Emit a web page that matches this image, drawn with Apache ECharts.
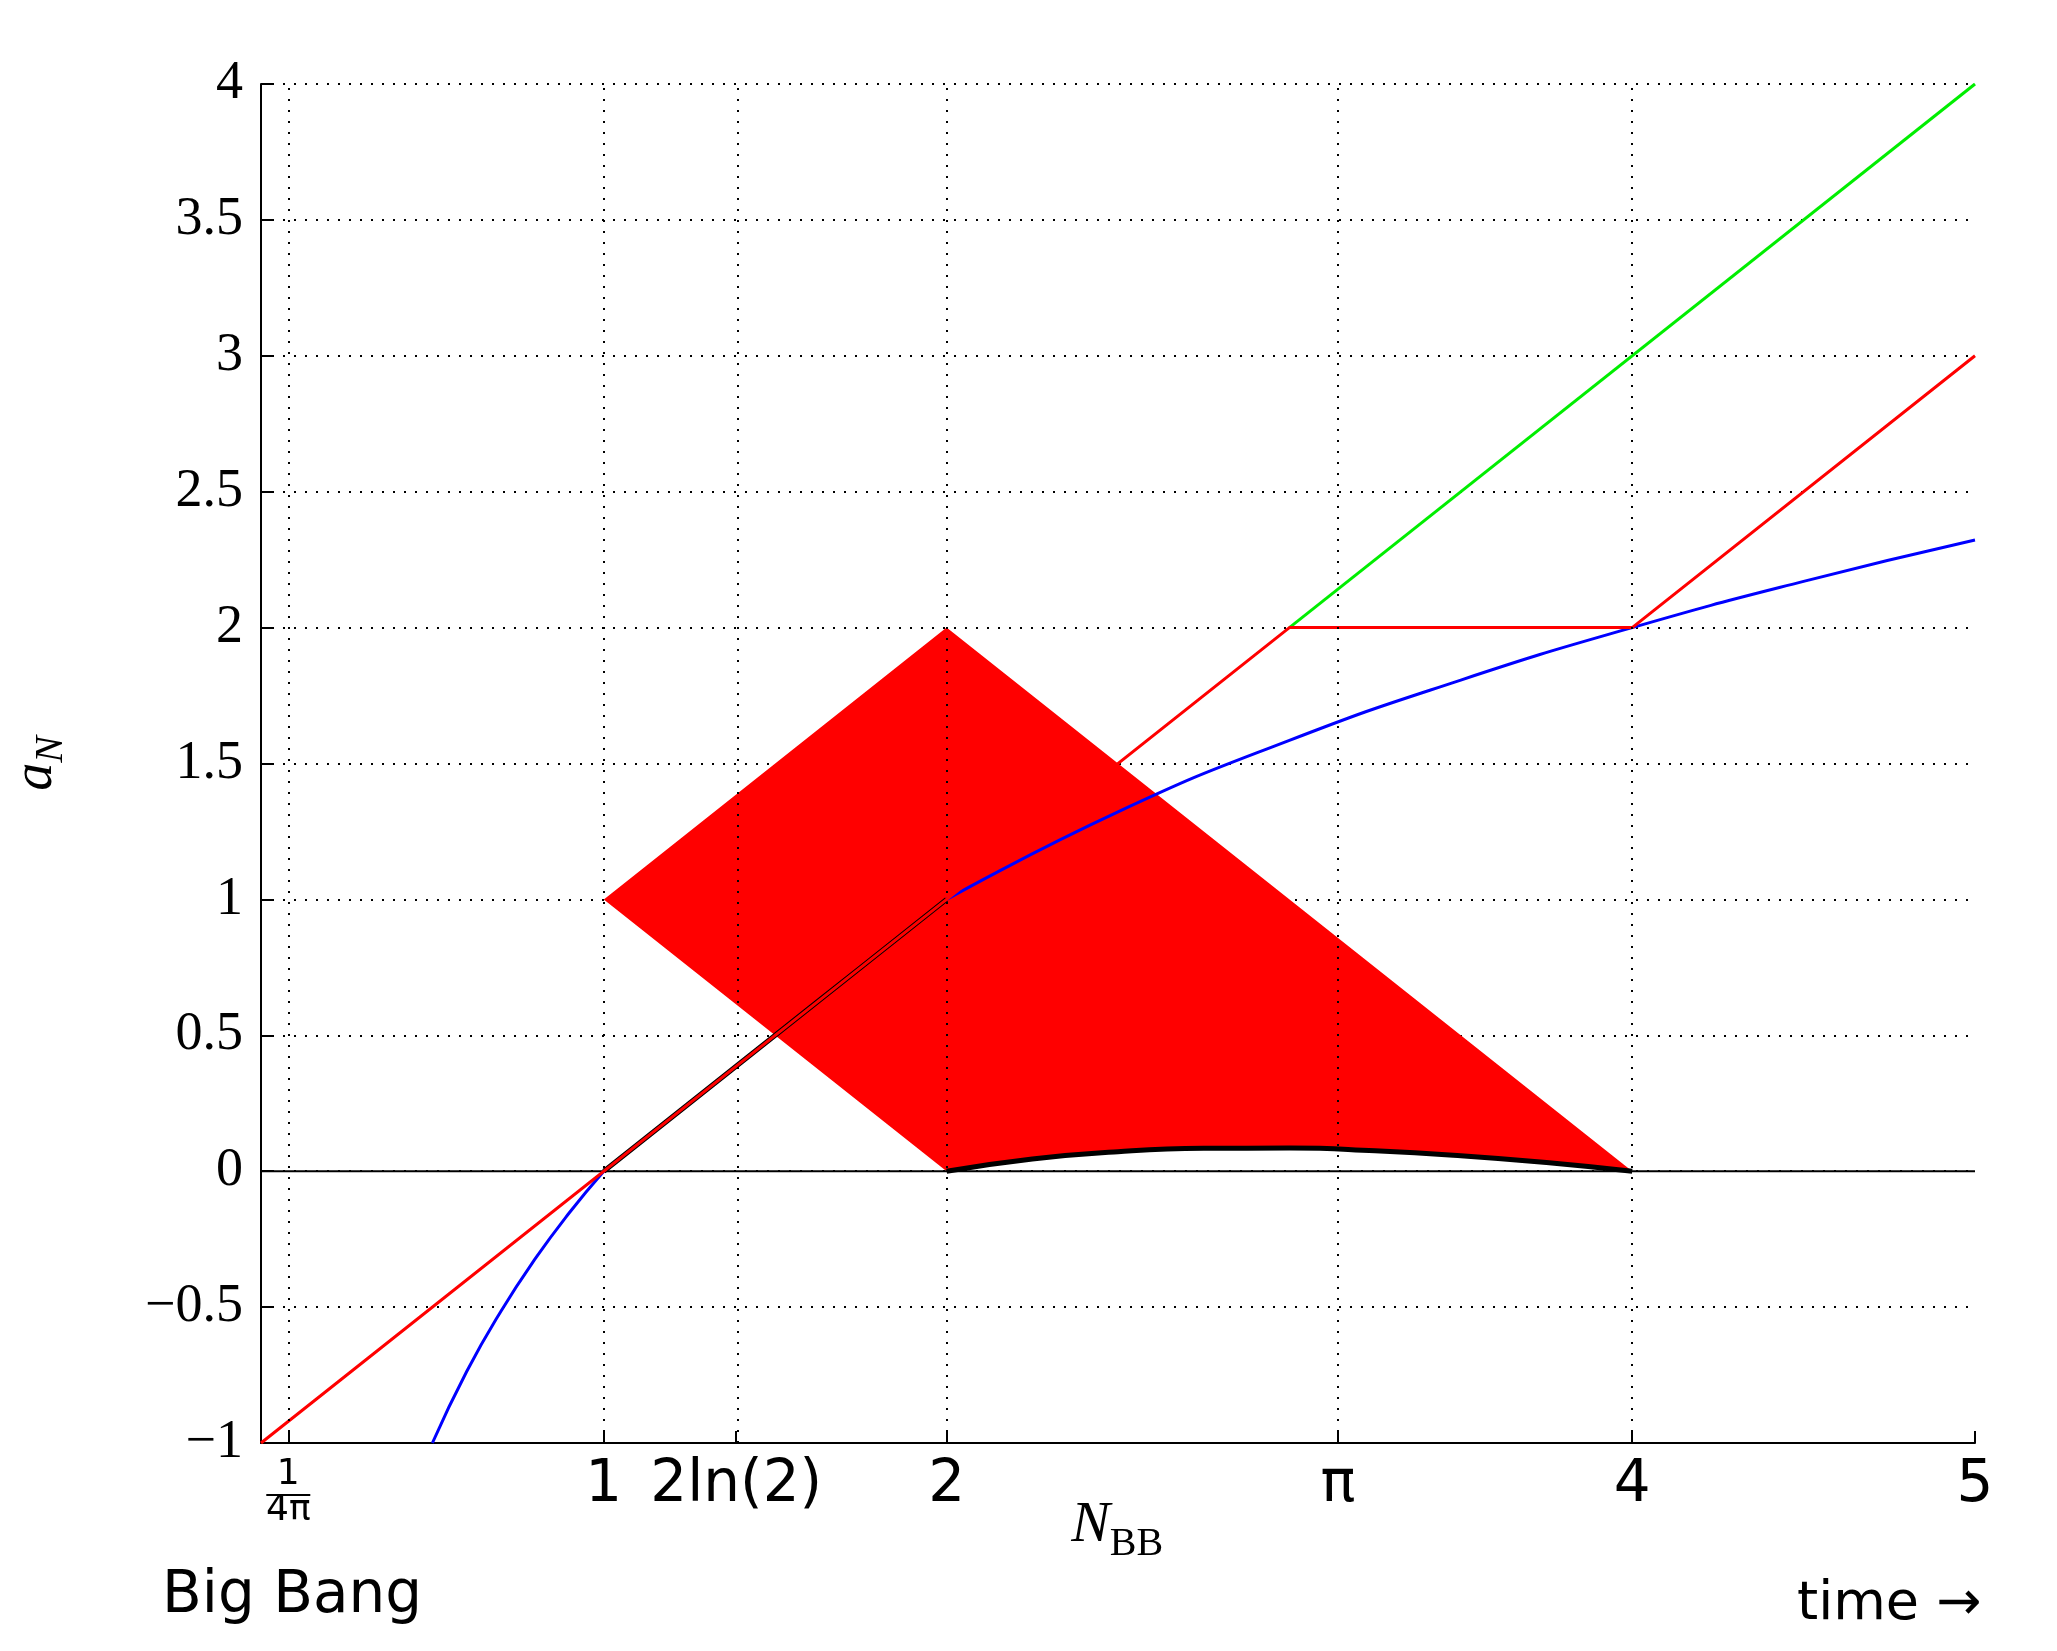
<!DOCTYPE html>
<html><head><meta charset="utf-8">
<script src="https://cdn.jsdelivr.net/npm/echarts@6/dist/echarts.min.js"></script>
<style>html,body{margin:0;background:#fff}#c{width:2057px;height:1651px}</style>
</head><body><div id="c"></div>
<script>
// values
const redX = [0, 3, 4, 5];
const redY = [-1, 2, 2, 3];
const greenX = [3, 5];
const greenY = [2, 4];
const blueLowX = [0.5, 0.6, 0.7, 0.8, 0.9, 1];
const blueLowY = [-1, -0.737, -0.515, -0.322, -0.152, 0];
const blueHighX = [2, 2.5, 3, 3.5, 4, 4.5, 5];
const blueHighY = [1, 1.322, 1.585, 1.807, 2, 2.170, 2.322];
const lensX = [1, 1.125, 1.25, 1.375, 1.5, 1.625, 1.75, 1.875, 2];
const lensBot = [0, 0.125, 0.25, 0.375, 0.5, 0.625, 0.75, 0.875, 1];
const lensTop = [0, 0.170, 0.322, 0.459, 0.585, 0.700, 0.807, 0.907, 1];
const xTicks = [0.0796, 1, 1.3863, 2, 3.1416, 4, 5];
const xTickText = ['{f|1}\n{f|4π}', '1', '2ln(2)', '2', 'π', '4', '5'];
const nbb = 2.48;

const pairs = (xs, ys) => xs.map((x, i) => [x, ys[i]]);

const chart = echarts.init(document.getElementById('c'));
const serif = 'Liberation Serif';
const sans = 'DejaVu Sans';
const line = (data, color, width, extra) => Object.assign({type: 'line', data, symbol: 'none', silent: true,
  lineStyle: {color, width}}, extra || {});
chart.setOption({
  animation: false,
  grid: {left: 261, right: 82, top: 84, bottom: 208},
  xAxis: {
    type: 'value', min: 0, max: 5,
    axisLine: {onZero: false, lineStyle: {color: '#000', width: 2}},
    axisTick: {customValues: xTicks, inside: true, length: 12, lineStyle: {color: '#000', width: 2}},
    axisLabel: {customValues: xTicks, color: '#000', fontFamily: sans, fontSize: 58, margin: 14,
      formatter: v => xTickText[xTicks.indexOf(v)] ?? '',
      rich: {f: {fontFamily: sans, fontSize: 36, lineHeight: 36, color: '#000'}}},
    splitLine: {show: false}
  },
  yAxis: {
    type: 'value', min: -1, max: 4, interval: 0.5,
    name: '{a|a}{n|N}', nameLocation: 'middle', nameGap: 190, nameRotate: 90,
    nameTextStyle: {rich: {
      a: {fontFamily: serif, fontStyle: 'italic', fontSize: 56, color: '#000'},
      n: {fontFamily: serif, fontStyle: 'italic', fontSize: 40, color: '#000', padding: [30, 0, 0, 0]}}},
    axisLine: {onZero: false, lineStyle: {color: '#000', width: 2}},
    axisTick: {inside: true, length: 12, lineStyle: {color: '#000', width: 2}},
    axisLabel: {color: '#000', fontFamily: serif, fontSize: 54, margin: 18,
      formatter: v => String(v).replace('-', '−')},
    splitLine: {show: true, lineStyle: {color: '#000', type: [2, 9], width: 2}}
  },
  series: [
    line([[0, 0], [5, 0]], '#000', 2, {
      markLine: {symbol: 'none', silent: true, label: {show: false},
        lineStyle: {color: '#000', type: [2, 9], width: 2},
        data: xTicks.slice(0, 6).map(x => ({xAxis: x}))}}),
    line(pairs(lensX, lensBot), '#000', 5, {stack: 'lens'}),
    line(lensX.map((x, i) => [x, lensTop[i] - lensBot[i]]), '#000', 5,
      {stack: 'lens', smooth: true, areaStyle: {color: '#ff0000', opacity: 1}}),
    line(pairs(blueLowX, blueLowY), '#0000ff', 3, {smooth: true}),
    line(pairs(blueHighX, blueHighY), '#0000ff', 3, {smooth: true}),
    line(pairs(greenX, greenY), '#00ee00', 3),
    line(pairs(redX, redY), '#ff0000', 3)
  ]
});

const fr = chart.convertToPixel({gridIndex: 0}, [xTicks[0], -1]);
const nb = chart.convertToPixel({gridIndex: 0}, [nbb, -1]);
chart.setOption({graphic: [
  {type: 'line', shape: {x1: fr[0] - 22, y1: fr[1] + 52, x2: fr[0] + 22, y2: fr[1] + 52}, style: {stroke: '#000', lineWidth: 2}},
  {type: 'text', x: nb[0] - 40, y: fr[1] + 45, style: {text: '{n|N}{s|BB}', rich: {
    n: {fontFamily: serif, fontStyle: 'italic', fontSize: 58, fill: '#000'},
    s: {fontFamily: serif, fontSize: 40, fill: '#000', padding: [36, 0, 0, 0]}}}},
  {type: 'text', x: 162, y: 1568, style: {text: 'Big Bang', fontFamily: sans, fontSize: 58, fill: '#000'}},
  {type: 'text', x: 1797, y: 1578, style: {text: 'time →', fontFamily: sans, fontSize: 54, fill: '#000'}}
]});
</script></body></html>
